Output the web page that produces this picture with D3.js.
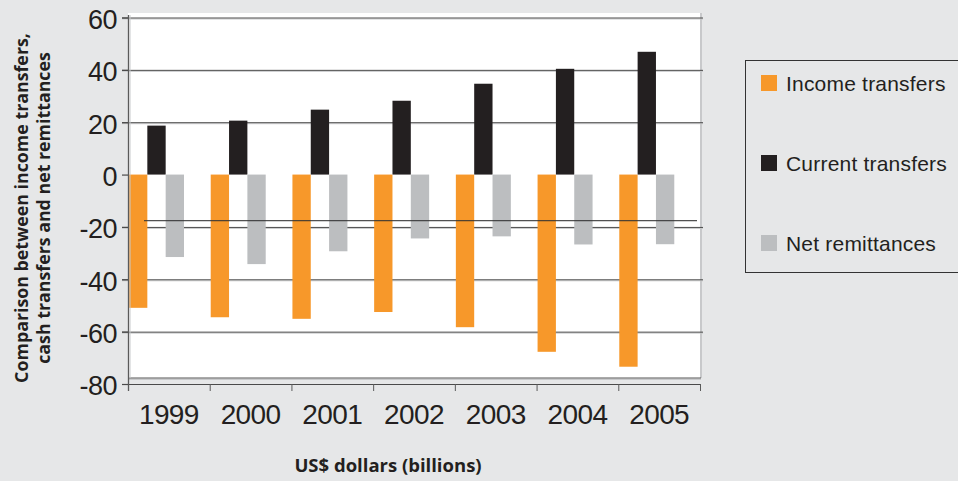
<!DOCTYPE html>
<html>
<head>
<meta charset="utf-8">
<script src="https://cdn.jsdelivr.net/npm/d3@7"></script>
<style>
  body { margin: 0; background: #e6e7e8; }
  svg { display: block; }
</style>
</head>
<body>
<div id="chart"></div>
<script>
// data (US$ billions)
const years = ["1999", "2000", "2001", "2002", "2003", "2004", "2005"]
const seriesNames = ["Income transfers", "Current transfers", "Net remittances"]
const incomeTransfers = [-50.9, -54.5, -55.1, -52.5, -58.3, -67.7, -73.4]
const currentTransfers = [18.7, 20.6, 24.8, 28.2, 34.7, 40.4, 46.9]
const netRemittances = [-31.5, -34.2, -29.3, -24.4, -23.6, -26.7, -26.6]
const yTicks = [60, 40, 20, 0, -20, -40, -60, -80]
const refLine = -17.6
const colors = ["#f7982a", "#231f20", "#bcbec0"]

const width = 958
const height = 481

const svg = d3.select("#chart").append("svg")
  .attr("width", width)
  .attr("height", height)

svg.append("rect")
  .attr("width", width).attr("height", height).attr("fill", "#e6e7e8")

// scales
const x = d3.scaleBand().domain(years).range([128, 700]).padding(0)
const xs = d3.scaleBand().domain(seriesNames).range([1, 56]).padding(0)
const y = d3.scaleLinear().domain([-80, 60]).range([384, 17.5])

// white plot area
svg.append("rect")
  .attr("x", 128).attr("y", 13)
  .attr("width", 572).attr("height", 365)
  .attr("fill", "#ffffff")
svg.append("line")
  .attr("x1", 701).attr("x2", 701).attr("y1", 13).attr("y2", 378)
  .attr("stroke", "#c8c9cb").attr("stroke-width", 2)
svg.append("line")
  .attr("x1", 128).attr("x2", 701).attr("y1", 378).attr("y2", 378)
  .attr("stroke", "#555").attr("stroke-width", 1)
svg.append("line")
  .attr("x1", 128).attr("x2", 701).attr("y1", 379.5).attr("y2", 379.5)
  .attr("stroke", "#c8c9cb").attr("stroke-width", 1)

// gridlines (dark line with a light shadow under it)
const gridTicks = yTicks.filter(d => d !== 0 && d !== -80)
const grid = svg.append("g")
grid.selectAll(".gs").data(gridTicks).enter()
  .append("line")
  .attr("x1", 122).attr("x2", 703)
  .attr("y1", d => y(d) + 1.5).attr("y2", d => y(d) + 1.5)
  .attr("stroke", "#c8c9cb").attr("stroke-width", 1)
grid.selectAll(".gl").data(gridTicks).enter()
  .append("line")
  .attr("x1", 122).attr("x2", 703)
  .attr("y1", d => y(d) + 0.5).attr("y2", d => y(d) + 0.5)
  .attr("stroke", "#4a4a4a").attr("stroke-width", 1)

// bars
const table = years.map((yr, i) => ({
  year: yr,
  values: [incomeTransfers[i], currentTransfers[i], netRemittances[i]]
}))
const groups = svg.selectAll(".yr").data(table).enter()
  .append("g")
  .attr("transform", d => `translate(${x(d.year)},0)`)
groups.selectAll("rect")
  .data(d => d.values.map((v, j) => ({ name: seriesNames[j], value: v, c: colors[j] })))
  .enter().append("rect")
  .attr("x", d => xs(d.name))
  .attr("width", xs.bandwidth())
  .attr("y", d => y(Math.max(0, d.value)))
  .attr("height", d => Math.abs(y(d.value) - y(0)))
  .attr("fill", d => d.c)

// the stray horizontal rule drawn over the bars
svg.append("line")
  .attr("x1", 144).attr("x2", 697)
  .attr("y1", y(refLine)).attr("y2", y(refLine))
  .attr("stroke", "#333").attr("stroke-opacity", 0.85).attr("stroke-width", 1.3)

// y axis
svg.append("line")
  .attr("x1", 128.5).attr("x2", 128.5).attr("y1", 15).attr("y2", 391)
  .attr("stroke", "#5a5a5a").attr("stroke-width", 1.3)
svg.append("line")
  .attr("x1", 130).attr("x2", 130).attr("y1", 15).attr("y2", 378)
  .attr("stroke", "#c8c9cb").attr("stroke-width", 1)
svg.selectAll(".yt").data(yTicks).enter()
  .append("line")
  .attr("x1", 122).attr("x2", 128)
  .attr("y1", d => y(d) + 0.5).attr("y2", d => y(d) + 0.5)
  .attr("stroke", "#4a4a4a").attr("stroke-width", 1.2)
svg.selectAll(".ytl").data(yTicks).enter()
  .append("text")
  .attr("x", 117)
  .attr("y", d => y(d))
  .attr("dy", "0.42em")
  .attr("text-anchor", "end")
  .attr("font-family", "Liberation Sans, Arial, sans-serif")
  .attr("font-size", 27)
  .attr("letter-spacing", -0.5)
  .attr("fill", "#231f20")
  .text(d => d)

// x axis
svg.append("line")
  .attr("x1", 122).attr("x2", 701).attr("y1", y(-80) + 0.5).attr("y2", y(-80) + 0.5)
  .attr("stroke", "#4a4a4a").attr("stroke-width", 1.2)
const xEdges = years.map(d => x(d)).concat([x.range()[1]])
svg.selectAll(".xt").data(xEdges).enter()
  .append("line")
  .attr("x1", d => d + 0.5).attr("x2", d => d + 0.5)
  .attr("y1", y(-80)).attr("y2", y(-80) + 7)
  .attr("stroke", "#5a5a5a").attr("stroke-width", 1)
svg.selectAll(".xtl").data(years).enter()
  .append("text")
  .attr("x", d => x(d) + x.bandwidth() / 2)
  .attr("y", 424)
  .attr("text-anchor", "middle")
  .attr("font-family", "Liberation Sans, Arial, sans-serif")
  .attr("font-size", 28)
  .attr("letter-spacing", -0.6)
  .attr("fill", "#231f20")
  .text(d => d)

// axis titles
svg.append("text")
  .attr("x", 388).attr("y", 472)
  .attr("text-anchor", "middle")
  .attr("font-family", "Open Sans, sans-serif")
  .attr("font-weight", "bold")
  .attr("font-size", 18.5)
  .attr("fill", "#231f20")
  .text("US$ dollars (billions)")
const yTitle = svg.append("text")
  .attr("transform", "translate(0,208) rotate(-90)")
  .attr("text-anchor", "middle")
  .attr("font-family", "Open Sans, sans-serif")
  .attr("font-weight", "bold")
  .attr("font-size", 17.8)
  .attr("fill", "#231f20")
yTitle.append("tspan").attr("x", 0).attr("y", 28).text("Comparison between income transfers,")
yTitle.append("tspan").attr("x", 0).attr("y", 50).text("cash transfers and net remittances")

// legend
const legend = svg.append("g")
legend.append("rect")
  .attr("x", 745.5).attr("y", 60.5)
  .attr("width", 230).attr("height", 212)
  .attr("fill", "none").attr("stroke", "#333").attr("stroke-width", 1)
const item = legend.selectAll(".li").data(seriesNames).enter()
  .append("g")
  .attr("transform", (d, i) => `translate(761,${75 + i * 80})`)
item.append("rect")
  .attr("width", 16).attr("height", 16)
  .attr("fill", (d, i) => colors[i])
item.append("text")
  .attr("x", 25).attr("y", 15.5)
  .attr("font-family", "Liberation Sans, Arial, sans-serif")
  .attr("font-size", 21)
  .attr("letter-spacing", 0.2)
  .attr("fill", "#231f20")
  .text(d => d)
</script>
</body>
</html>
